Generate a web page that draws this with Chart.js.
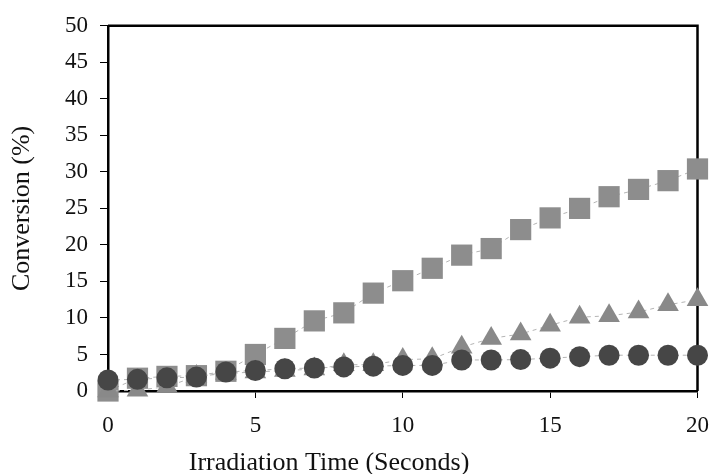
<!DOCTYPE html>
<html>
<head>
<meta charset="utf-8">
<script src="https://cdn.jsdelivr.net/npm/chart.js@4.4.0/dist/chart.umd.min.js"></script>
<style>
    html, body { margin: 0; padding: 0; background: #fff; }
    #wrap { width: 723px; height: 474px; }
</style>
</head>
<body>
<div id="wrap"><canvas id="chart" width="723" height="474"></canvas></div>
<script>
// values
const times = [0, 1, 2, 3, 4, 5, 6, 7, 8, 9, 10, 11, 12, 13, 14, 15, 16, 17, 18, 19, 20];
const squareSeries = [0, 1.75, 2.0, 2.1, 2.7, 5.0, 7.2, 9.6, 10.7, 13.4, 15.1, 16.8, 18.6, 19.5, 22.1, 23.7, 25.0, 26.6, 27.6, 28.8, 30.4];
const triangleSeries = [0, 0.1, 0.6, 2.0, 2.4, 2.6, 2.8, 3.0, 3.6, 3.6, 4.3, 4.4, 6.0, 7.2, 7.8, 9.0, 10.1, 10.3, 10.8, 11.8, 12.5];
const circleSeries = [1.5, 1.6, 1.8, 1.9, 2.6, 2.8, 3.05, 3.15, 3.3, 3.4, 3.5, 3.5, 4.25, 4.25, 4.3, 4.5, 4.7, 4.9, 4.9, 4.9, 4.9];
const xTicks = [0, 5, 10, 15, 20];
const yTicks = [0, 5, 10, 15, 20, 25, 30, 35, 40, 45, 50];

const serif = "'Liberation Serif', 'Times New Roman', serif";

function toPoints(values) {
    return values.map((v, i) => ({ x: times[i], y: v }));
}

// top and right edges of the box
const framePlugin = {
    id: "frame",
    beforeDatasetsDraw(chart) {
        const { ctx, chartArea } = chart;
        ctx.save();
        ctx.strokeStyle = "#000";
        ctx.lineWidth = 2.5;
        ctx.beginPath();
        ctx.moveTo(chartArea.left, chartArea.top);
        ctx.lineTo(chartArea.right, chartArea.top);
        ctx.lineTo(chartArea.right, chartArea.bottom);
        ctx.stroke();
        ctx.restore();
    }
};

// x axis title sits left of the axis centre in the original
const xTitlePlugin = {
    id: "xTitle",
    afterDraw(chart) {
        const { ctx, chartArea } = chart;
        ctx.save();
        ctx.fillStyle = "#111";
        ctx.font = "26px " + serif;
        ctx.textAlign = "center";
        ctx.textBaseline = "middle";
        ctx.fillText("Irradiation Time (Seconds)", chartArea.left + chartArea.width * 0.375, 463);
        ctx.restore();
    }
};

function makeSet(label, values, style, radius, color, order) {
    return {
        label: label,
        data: toPoints(values),
        showLine: true,
        borderColor: "#b4b4b4",
        borderWidth: 1,
        borderDash: [4, 4],
        pointStyle: style,
        pointRadius: radius,
        pointHoverRadius: radius,
        pointBackgroundColor: color,
        pointBorderWidth: 0,
        clip: false,
        order: order
    };
}

function init() {
    const ctx = document.getElementById("chart").getContext("2d");

    new Chart(ctx, {
        type: "line",
        data: {
            datasets: [
                makeSet("Square", squareSeries, "rect", 15, "#8d8d8d", 3),
                makeSet("Triangle", triangleSeries, "triangle", 12.5, "#898989", 2),
                makeSet("Circle", circleSeries, "circle", 10.5, "#464646", 1)
            ]
        },
        options: {
            responsive: false,
            animation: false,
            devicePixelRatio: 1,
            layout: { padding: { top: 21, right: 14, left: 0, bottom: 0 } },
            plugins: {
                legend: { display: false },
                tooltip: { enabled: false }
            },
            scales: {
                x: {
                    type: "linear",
                    min: 0,
                    max: 20,
                    afterBuildTicks: s => { s.ticks = xTicks.map(v => ({ value: v })); },
                    afterFit: s => { s.height = 83; },
                    grid: { drawOnChartArea: false, tickLength: 7, color: "#000", tickWidth: 1 },
                    border: { color: "#000", width: 2.5 },
                    ticks: {
                        color: "#111",
                        padding: 14,
                        maxRotation: 0,
                        font: { family: serif, size: 23 }
                    }
                },
                y: {
                    min: 0,
                    max: 50,
                    afterBuildTicks: s => { s.ticks = yTicks.map(v => ({ value: v })); },
                    afterFit: s => { s.width = 108; },
                    grid: { drawOnChartArea: false, tickLength: 8, color: "#000", tickWidth: 1 },
                    border: { color: "#000", width: 2.5 },
                    ticks: {
                        color: "#111",
                        padding: 12,
                        font: { family: serif, size: 23 }
                    },
                    title: {
                        display: true,
                        text: "Conversion (%)",
                        color: "#111",
                        padding: { top: 7, bottom: 0 },
                        font: { family: serif, size: 26 }
                    }
                }
            }
        },
        plugins: [framePlugin, xTitlePlugin]
    });
}

window.addEventListener("DOMContentLoaded", init);
</script>
</body>
</html>
